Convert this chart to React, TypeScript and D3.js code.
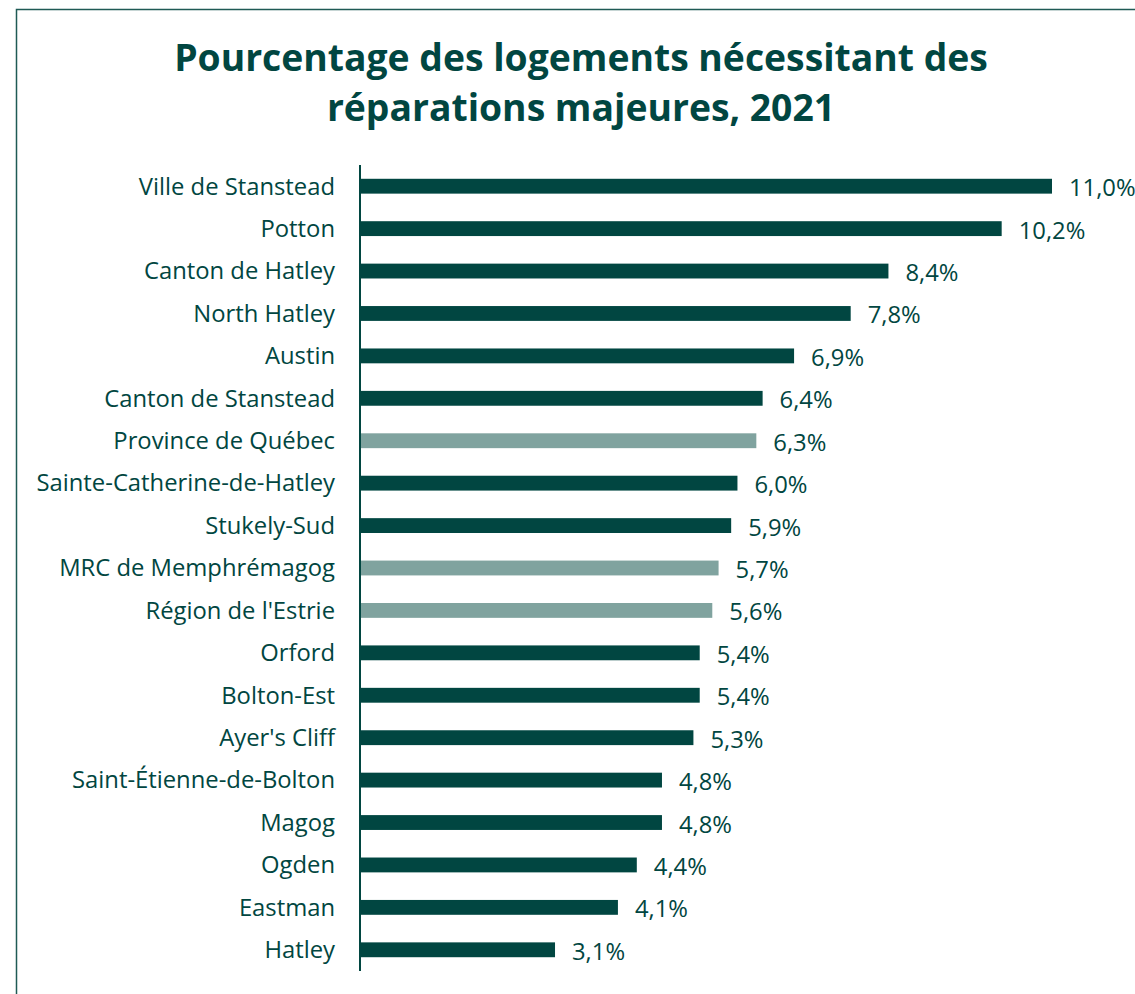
import React from "react";
import * as d3 from "d3";

const categories = [
  "Ville de Stanstead", "Potton", "Canton de Hatley", "North Hatley", "Austin",
  "Canton de Stanstead", "Province de Québec", "Sainte-Catherine-de-Hatley",
  "Stukely-Sud", "MRC de Memphrémagog", "Région de l'Estrie", "Orford",
  "Bolton-Est", "Ayer's Cliff", "Saint-Étienne-de-Bolton", "Magog", "Ogden",
  "Eastman", "Hatley",
];
const values = [11.0, 10.2, 8.4, 7.8, 6.9, 6.4, 6.3, 6.0, 5.9, 5.7, 5.6, 5.4, 5.4, 5.3, 4.8, 4.8, 4.4, 4.1, 3.1];
const highlighted = ["Province de Québec", "MRC de Memphrémagog", "Région de l'Estrie"];
const titleLines = ["Pourcentage des logements nécessitant des", "réparations majeures, 2021"];

const W = 1135, H = 994;
const DARK = "#014641";
const LIGHT = "#80a39f";
const FONT = "'Open Sans', sans-serif";

export default function App() {
  const x0 = 360;
  const x = d3.scaleLinear().domain([0, 11]).range([x0, 1052]);
  const y = d3.scaleBand<string>().domain(categories).range([165, 971]).paddingInner(0.65).paddingOuter(0.325);
  const fmt = (v: number) => v.toFixed(1).replace(".", ",") + "%";
  return (
    <svg width={W} height={H} style={{ position: "absolute", left: 0, top: 0, background: "#fff" }}>
      <rect x={16.5} y={9.5} width={W} height={H} fill="none" stroke="#1f5a55" strokeWidth={1.5} />
      {titleLines.map((t, i) => (
        <text key={i} x={581} y={71 + i * 50} textAnchor="middle" fontFamily={FONT} fontWeight={700} fontSize={37.3} fill={DARK}>{t}</text>
      ))}
      {categories.map((c, i) => {
        const yy = y(c)!;
        const bw = y.bandwidth();
        const v = values[i];
        return (
          <g key={c}>
            <rect x={x(0)} y={yy} width={x(v) - x(0)} height={bw} fill={highlighted.includes(c) ? LIGHT : DARK} />
            <text x={335} y={yy + bw / 2} dy="0.35em" textAnchor="end" fontFamily={FONT} fontSize={23.8} fill={DARK}>{c}</text>
            <text x={x(v) + 17} y={yy + bw / 2} dy="0.42em" textAnchor="start" fontFamily={FONT} fontSize={23.8} fill={DARK}>{fmt(v)}</text>
          </g>
        );
      })}
      <line x1={x0} x2={x0} y1={165} y2={971} stroke={DARK} strokeWidth={2} />
    </svg>
  );
}
